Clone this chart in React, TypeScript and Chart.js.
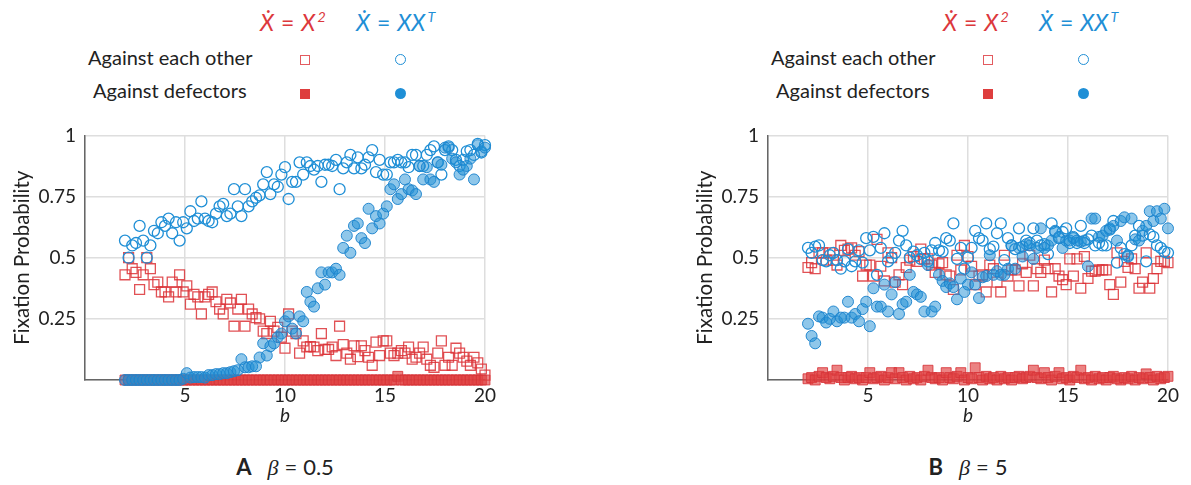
import React, { useEffect, useRef } from 'react';
import { Chart, registerables } from 'chart.js';
Chart.register(...registerables);

// b grid (shared x values)
const bValues = [
  2.00, 2.18, 2.36, 2.55, 2.73, 2.91, 3.09, 3.27, 3.45, 3.64,
  3.82, 4.00, 4.18, 4.36, 4.55, 4.73, 4.91, 5.09, 5.27, 5.45,
  5.64, 5.82, 6.00, 6.18, 6.36, 6.55, 6.73, 6.91, 7.09, 7.27,
  7.45, 7.64, 7.82, 8.00, 8.18, 8.36, 8.55, 8.73, 8.91, 9.09,
  9.27, 9.45, 9.64, 9.82, 10.00, 10.18, 10.36, 10.55, 10.73, 10.91,
  11.09, 11.27, 11.45, 11.64, 11.82, 12.00, 12.18, 12.36, 12.55, 12.73,
  12.91, 13.09, 13.27, 13.45, 13.64, 13.82, 14.00, 14.18, 14.36, 14.55,
  14.73, 14.91, 15.09, 15.27, 15.45, 15.64, 15.82, 16.00, 16.18, 16.36,
  16.55, 16.73, 16.91, 17.09, 17.27, 17.45, 17.64, 17.82, 18.00, 18.18,
  18.36, 18.55, 18.73, 18.91, 19.09, 19.27, 19.45, 19.64, 19.82, 20.00,
];

// Panel A (beta = 0.5)
const aEachOtherX2 = [
  0.43, 0.50, 0.455, 0.44, 0.37, 0.43, 0.50, 0.455, 0.39, 0.40,
  0.36, 0.36, 0.34, 0.40, 0.36, 0.43, 0.36, 0.385, 0.31, 0.35,
  0.34, 0.27, 0.34, 0.35, 0.36, 0.32, 0.29, 0.27, 0.33, 0.315,
  0.22, 0.29, 0.33, 0.22, 0.29, 0.27, 0.255, 0.25, 0.20, 0.19,
  0.24, 0.20, 0.215, 0.175, 0.13, 0.27, 0.20, 0.19, 0.11, 0.16,
  0.135, 0.137, 0.135, 0.12, 0.19, 0.125, 0.125, 0.135, 0.10, 0.22,
  0.145, 0.11, 0.085, 0.14, 0.095, 0.14, 0.12, 0.093, 0.06, 0.155,
  0.10, 0.16, 0.16, 0.11, 0.10, 0.11, 0.12, 0.11, 0.135, 0.085,
  0.093, 0.11, 0.135, 0.085, 0.06, 0.052, 0.11, 0.16, 0.06, 0.093,
  0.06, 0.13, 0.11, 0.093, 0.077, 0.06, 0.093, 0.07, 0.045, 0.02,
];
const aEachOtherXXT = [
  0.57, 0.50, 0.55, 0.56, 0.63, 0.57, 0.50, 0.55, 0.61, 0.60,
  0.645, 0.63, 0.66, 0.60, 0.645, 0.57, 0.645, 0.62, 0.69, 0.65,
  0.66, 0.73, 0.66, 0.65, 0.645, 0.68, 0.71, 0.72, 0.67, 0.68,
  0.78, 0.71, 0.67, 0.78, 0.71, 0.73, 0.745, 0.755, 0.80, 0.85,
  0.76, 0.80, 0.79, 0.84, 0.87, 0.74, 0.81, 0.81, 0.89, 0.84,
  0.89, 0.875, 0.86, 0.875, 0.81, 0.88, 0.88, 0.875, 0.90, 0.78,
  0.865, 0.89, 0.92, 0.865, 0.91, 0.865, 0.88, 0.91, 0.94, 0.85,
  0.90, 0.84, 0.84, 0.89, 0.89, 0.90, 0.89, 0.89, 0.87, 0.92,
  0.92, 0.875, 0.875, 0.92, 0.94, 0.955, 0.89, 0.84, 0.94, 0.955,
  0.94, 0.90, 0.875, 0.90, 0.935, 0.94, 0.92, 0.965, 0.93, 0.96,
];
const aDefectorsX2 = [
  0, 0, 0, 0, 0, 0, 0, 0, 0, 0,
  0, 0, 0, 0, 0, 0, 0, 0, 0, 0,
  0, 0, 0, 0, 0, 0, 0, 0, 0, 0,
  0, 0, 0, 0, 0, 0, 0, 0, 0, 0,
  0, 0, 0, 0, 0, 0, 0, 0, 0, 0,
  0, 0, 0, 0, 0, 0, 0, 0, 0, 0,
  0, 0, 0, 0, 0, 0, 0, 0, 0, 0,
  0, 0, 0, 0, 0, 0.015, 0, 0, 0, 0,
  0, 0, 0, 0, 0, 0, 0, 0, 0, 0,
  0, 0, 0, 0, 0, 0, 0, 0, 0, 0,
];
const aDefectorsXXT = [
  0, 0, 0, 0, 0, 0, 0, 0, 0, 0,
  0, 0, 0, 0, 0, 0, 0.005, 0.028, 0.01, 0.012,
  0.012, 0.012, 0.01, 0.02, 0.02, 0.024, 0.024, 0.028, 0.028, 0.032,
  0.036, 0.04, 0.085, 0.052, 0.052, 0.056, 0.056, 0.092, 0.15, 0.10,
  0.138, 0.15, 0.175, 0.19, 0.24, 0.26, 0.21, 0.19, 0.26, 0.24,
  0.36, 0.32, 0.30, 0.375, 0.44, 0.39, 0.44, 0.44, 0.455, 0.43,
  0.54, 0.59, 0.52, 0.63, 0.64, 0.58, 0.56, 0.70, 0.62, 0.67,
  0.64, 0.68, 0.71, 0.78, 0.80, 0.74, 0.76, 0.82, 0.78, 0.775,
  0.76, 0.875, 0.82, 0.87, 0.82, 0.81, 0.89, 0.88, 0.95, 0.95,
  0.905, 0.89, 0.84, 0.86, 0.875, 0.905, 0.82, 0.96, 0.935, 0.95,
];

// Panel B (beta = 5)
const bEachOtherX2 = [
  0.46, 0.48, 0.455, 0.52, 0.52, 0.49, 0.52, 0.49, 0.47, 0.55,
  0.53, 0.535, 0.54, 0.51, 0.525, 0.425, 0.47, 0.47, 0.425, 0.575,
  0.465, 0.405, 0.52, 0.50, 0.40, 0.43, 0.39, 0.46, 0.49, 0.505,
  0.485, 0.535, 0.495, 0.495, 0.47, 0.44, 0.475, 0.48, 0.43, 0.425,
  0.37, 0.51, 0.45, 0.55, 0.505, 0.465, 0.39, 0.425, 0.43, 0.36,
  0.47, 0.455, 0.40, 0.36, 0.51, 0.425, 0.45, 0.45, 0.385, 0.475,
  0.44, 0.51, 0.385, 0.455, 0.44, 0.49, 0.455, 0.36, 0.455, 0.425,
  0.41, 0.39, 0.495, 0.425, 0.495, 0.375, 0.505, 0.415, 0.445, 0.445,
  0.45, 0.45, 0.45, 0.39, 0.35, 0.52, 0.40, 0.485, 0.46, 0.495,
  0.455, 0.375, 0.40, 0.52, 0.375, 0.415, 0.455, 0.485, 0.485, 0.48,
];
const bEachOtherXXT = [
  0.54, 0.52, 0.545, 0.55, 0.49, 0.485, 0.51, 0.52, 0.49, 0.455,
  0.485, 0.535, 0.465, 0.485, 0.53, 0.48, 0.58, 0.53, 0.585, 0.43,
  0.54, 0.60, 0.485, 0.50, 0.52, 0.57, 0.61, 0.55, 0.50, 0.525,
  0.51, 0.495, 0.52, 0.485, 0.53, 0.56, 0.53, 0.525, 0.58, 0.57,
  0.64, 0.495, 0.54, 0.455, 0.50, 0.54, 0.61, 0.58, 0.57, 0.64,
  0.535, 0.545, 0.60, 0.64, 0.49, 0.58, 0.55, 0.535, 0.62, 0.545,
  0.57, 0.56, 0.62, 0.57, 0.55, 0.555, 0.515, 0.64, 0.605, 0.58,
  0.605, 0.62, 0.56, 0.58, 0.56, 0.63, 0.56, 0.575, 0.59, 0.55,
  0.56, 0.55, 0.55, 0.615, 0.65, 0.48, 0.54, 0.515, 0.505, 0.55,
  0.59, 0.63, 0.59, 0.485, 0.595, 0.585, 0.55, 0.54, 0.525, 0.52,
];
const bDefectorsX2 = [
  0.005, 0.01, 0.0, 0.015, 0.03, 0.01, 0.005, 0.015, 0.04, 0.01,
  0.0, 0.01, 0.015, 0.005, 0.01, 0.0, 0.01, 0.03, 0.005, 0.01,
  0.015, 0.0, 0.01, 0.03, 0.005, 0.03, 0.01, 0.0, 0.015, 0.005,
  0.01, 0.0, 0.015, 0.04, 0.01, 0.005, 0.01, 0.0, 0.03, 0.01,
  0.005, 0.015, 0.03, 0.0, 0.01, 0.005, 0.05, 0.01, 0.0, 0.015,
  0.005, 0.01, 0.0, 0.015, 0.005, 0.01, 0.0, 0.01, 0.015, 0.005,
  0.01, 0.015, 0.04, 0.01, 0.005, 0.03, 0.01, 0.0, 0.015, 0.03,
  0.005, 0.01, 0.0, 0.015, 0.01, 0.04, 0.005, 0.01, 0.0, 0.015,
  0.005, 0.01, 0.0, 0.01, 0.015, 0.005, 0.0, 0.01, 0.005, 0.015,
  0.0, 0.01, 0.005, 0.025, 0.01, 0.0, 0.015, 0.005, 0.01, 0.015,
];
const bDefectorsXXT = [
  0.23, 0.18, 0.15, 0.26, 0.255, 0.235, 0.25, 0.28, 0.24, 0.255,
  0.255, 0.32, 0.255, 0.27, 0.24, 0.29, 0.32, 0.22, 0.375, 0.30,
  0.30, 0.39, 0.28, 0.35, 0.40, 0.27, 0.31, 0.32, 0.43, 0.36,
  0.35, 0.34, 0.28, 0.47, 0.28, 0.30, 0.43, 0.405, 0.38, 0.395,
  0.38, 0.33, 0.415, 0.36, 0.39, 0.44, 0.39, 0.335, 0.42, 0.425,
  0.51, 0.43, 0.445, 0.43, 0.43, 0.455, 0.55, 0.455, 0.54, 0.505,
  0.555, 0.55, 0.495, 0.54, 0.62, 0.54, 0.55, 0.57, 0.61, 0.585,
  0.54, 0.57, 0.57, 0.585, 0.57, 0.565, 0.57, 0.465, 0.66, 0.66,
  0.585, 0.59, 0.61, 0.62, 0.63, 0.57, 0.65, 0.665, 0.51, 0.66,
  0.575, 0.57, 0.61, 0.63, 0.69, 0.65, 0.69, 0.66, 0.70, 0.62,
];

const xTicks = [5, 10, 15, 20];
const yTicks = [0.25, 0.5, 0.75, 1];

const RED = 'rgb(220,56,60)';
const BLUE = 'rgb(31,143,214)';
const FONT = 'Lato, "DejaVu Sans", sans-serif';

type Series = { eachX2: number[]; eachXXT: number[]; defX2: number[]; defXXT: number[] };

function toPoints(ys: number[]) {
  return bValues.map((b, i) => ({ x: b, y: ys[i] }));
}

function Panel({ left, series }: { left: number; series: Series }) {
  const ref = useRef<HTMLCanvasElement | null>(null);
  useEffect(() => {
    if (!ref.current) return;
    const common = { showLine: false, clip: false as any, pointHoverRadius: 0 };
    const chart = new Chart(ref.current, {
      type: 'scatter',
      data: {
        datasets: [
          {
            ...common,
            label: 'defXXT',
            data: toPoints(series.defXXT),
            pointStyle: 'circle',
            pointRadius: 5.5,
            pointBackgroundColor: 'rgba(31,143,214,0.5)',
            pointBorderColor: 'rgba(28,132,205,0.95)',
            pointBorderWidth: 1,
          },
          {
            ...common,
            label: 'defX2',
            data: toPoints(series.defX2),
            pointStyle: 'rect',
            pointRadius: 7,
            pointBackgroundColor: 'rgba(224,64,64,0.65)',
            pointBorderColor: 'rgba(215,50,55,0.85)',
            pointBorderWidth: 1,
          },
          {
            ...common,
            label: 'eachXXT',
            data: toPoints(series.eachXXT),
            pointStyle: 'circle',
            pointRadius: 5.5,
            pointBackgroundColor: 'rgba(0,0,0,0)',
            pointBorderColor: BLUE,
            pointBorderWidth: 1.3,
          },
          {
            ...common,
            label: 'eachX2',
            data: toPoints(series.eachX2),
            pointStyle: 'rect',
            pointRadius: 7,
            pointBackgroundColor: 'rgba(0,0,0,0)',
            pointBorderColor: 'rgba(220,50,55,0.85)',
            pointBorderWidth: 1.3,
          },
        ] as any,
      },
      options: {
        animation: false,
        responsive: true,
        maintainAspectRatio: false,
        events: [],
        layout: { padding: { left: 10, right: 14, top: 17, bottom: 0 } },
        plugins: { legend: { display: false }, tooltip: { enabled: false } },
        scales: {
          x: {
            type: 'linear',
            min: 0,
            max: 20,
            afterBuildTicks: (s: any) => {
              s.ticks = [0, ...xTicks].map((v) => ({ value: v }));
            },
            afterFit: (s: any) => {
              s.height = 50;
            },
            ticks: {
              padding: 4,
              color: '#222',
              font: { family: FONT, size: 19 },
              callback: (v: any) => (v === 0 ? '' : String(v)),
            },
            grid: { color: '#dedede', lineWidth: 1.5, drawTicks: false },
            border: { display: true, color: '#666', width: 1.5 },
            title: {
              display: true,
              text: 'b',
              color: '#222',
              font: { family: FONT, size: 19, style: 'italic' },
              padding: { top: 0, bottom: 3 },
            },
          },
          y: {
            type: 'linear',
            min: 0,
            max: 1,
            afterBuildTicks: (s: any) => {
              s.ticks = [0, ...yTicks].map((v) => ({ value: v }));
            },
            afterFit: (s: any) => {
              s.width = 75;
            },
            ticks: {
              padding: 9,
              color: '#222',
              font: { family: FONT, size: 19 },
              callback: (v: any) => (v === 0 ? '' : String(v)),
            },
            grid: { color: '#dedede', lineWidth: 1.5, drawTicks: false },
            border: { display: true, color: '#666', width: 1.5 },
            title: {
              display: true,
              text: 'Fixation Probability',
              color: '#222',
              font: { family: FONT, size: 20.5 },
              padding: { top: 0, bottom: 0 },
            },
          },
        },
      } as any,
    });
    return () => chart.destroy();
  }, [series]);
  return (
    <div style={{ position: 'absolute', left, top: 115, width: 500, height: 315 }}>
      <canvas ref={ref} />
    </div>
  );
}

const textBase: React.CSSProperties = {
  position: 'absolute',
  fontFamily: FONT,
  fontSize: 20,
  color: '#222',
  whiteSpace: 'nowrap',
  lineHeight: 1,
  transform: 'translateY(-50%)',
};

function Legend({ dx }: { dx: number }) {
  const sup: React.CSSProperties = { fontSize: '0.62em', position: 'relative', top: '-0.6em', marginLeft: 2 };
  const eq: React.CSSProperties = { fontStyle: 'normal', margin: '0 7px' };
  return (
    <>
      <div style={{ ...textBase, left: 260 + dx, top: 22, color: RED, fontStyle: 'italic', fontSize: 23 }}>
        {'Ẋ'}<span style={eq}>=</span>X<span style={sup}>2</span>
      </div>
      <div style={{ ...textBase, left: 356 + dx, top: 22, color: BLUE, fontStyle: 'italic', fontSize: 23 }}>
        {'Ẋ'}<span style={eq}>=</span>XX<span style={sup}>T</span>
      </div>
      <div style={{ ...textBase, left: 88 + dx, top: 57 }}>Against each other</div>
      <div style={{ ...textBase, left: 93 + dx, top: 90 }}>Against defectors</div>
      <div style={{ position: 'absolute', left: 300 + dx, top: 55, width: 8, height: 8, border: '1.3px solid rgba(220,50,55,0.8)' }} />
      <div style={{ position: 'absolute', left: 300 + dx, top: 89, width: 10, height: 10, background: 'rgb(222,62,62)' }} />
      <div style={{ position: 'absolute', left: 395 + dx, top: 54, width: 9, height: 9, borderRadius: '50%', border: `1.3px solid ${BLUE}` }} />
      <div style={{ position: 'absolute', left: 395 + dx, top: 88, width: 11, height: 11, borderRadius: '50%', background: BLUE }} />
    </>
  );
}

function Caption({ cx, letter, value }: { cx: number; letter: string; value: string }) {
  return (
    <div style={{ ...textBase, left: cx, top: 467, fontSize: 22, transform: 'translate(-50%,-50%)' }}>
      <b>{letter}</b>
      <span style={{ marginLeft: 16, fontStyle: 'italic', fontFamily: '"Liberation Serif", serif' }}>{'β'}</span>
      <span style={{ margin: '0 6px' }}>=</span>
      <span>{value}</span>
    </div>
  );
}

const seriesA: Series = { eachX2: aEachOtherX2, eachXXT: aEachOtherXXT, defX2: aDefectorsX2, defXXT: aDefectorsXXT };
const seriesB: Series = { eachX2: bEachOtherX2, eachXXT: bEachOtherXXT, defX2: bDefectorsX2, defXXT: bDefectorsXXT };

export default function App() {
  return (
    <div style={{ position: 'absolute', left: 0, top: 0, width: 1191, height: 485, background: '#fff', overflow: 'hidden' }}>
      <Panel left={0} series={seriesA} />
      <Panel left={683} series={seriesB} />
      <Legend dx={0} />
      <Legend dx={683} />
      <Caption cx={285} letter="A" value="0.5" />
      <Caption cx={968} letter="B" value="5" />
    </div>
  );
}
